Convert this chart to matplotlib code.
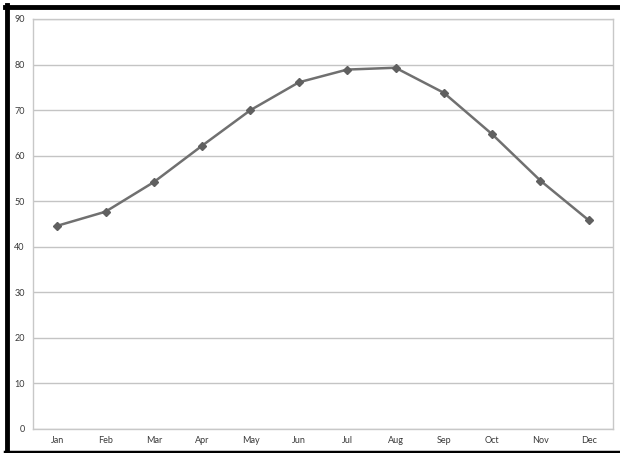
import matplotlib
matplotlib.use('Agg')
import matplotlib.pyplot as plt
from matplotlib.lines import Line2D

plt.rcParams['font.family'] = ['Lato', 'DejaVu Sans']

months = ['Jan', 'Feb', 'Mar', 'Apr', 'May', 'Jun', 'Jul', 'Aug', 'Sep', 'Oct', 'Nov', 'Dec']
values = [44.6, 47.7, 54.2, 62.2, 70.0, 76.1, 78.9, 79.3, 73.8, 64.7, 54.5, 45.8]
yticks = [0, 10, 20, 30, 40, 50, 60, 70, 80, 90]

fig = plt.figure(figsize=(6.2, 4.53), dpi=100)
ax = fig.add_axes([33 / 620, 24 / 453, 580 / 620, 410 / 453])

x = range(len(months))
ax.plot(x, values, color='#707070', linewidth=1.8, marker='D', markersize=3.6,
        markerfacecolor='#606060', markeredgecolor='#606060')

ax.set_xlim(-0.5, len(months) - 0.5)
ax.set_ylim(0, 90)
ax.set_yticks(yticks)
ax.set_xticks(list(x))
ax.set_xticklabels(months)
ax.yaxis.grid(True, color='#c4c4c4', linewidth=1)
ax.set_axisbelow(True)
ax.tick_params(length=0, labelsize=6.5, labelcolor='#3a3a3a')
ax.tick_params(axis='y', pad=6)
ax.tick_params(axis='x', pad=5)
for s in ax.spines.values():
    s.set_color('#c8c8c8')
    s.set_linewidth(1)

# black frame on left, top, bottom
fig.add_artist(Line2D([7 / 620, 7 / 620], [0, 1 - 5 / 453], color='black', linewidth=3.5, transform=fig.transFigure))
fig.add_artist(Line2D([5 / 620, 1], [1 - 7 / 453, 1 - 7 / 453], color='black', linewidth=3.5, transform=fig.transFigure))
fig.add_artist(Line2D([5 / 620, 1], [1.5 / 453, 1.5 / 453], color='black', linewidth=2.5, transform=fig.transFigure))

fig.savefig('out.png', dpi=100)
